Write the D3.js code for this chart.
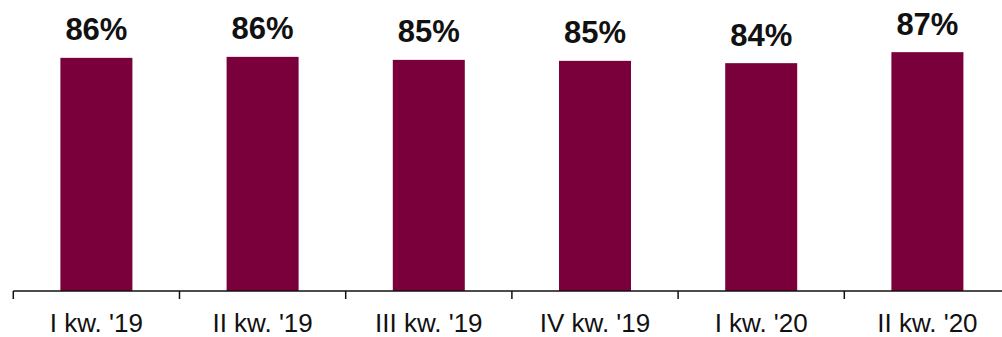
<!DOCTYPE html>
<html>
<head>
<meta charset="utf-8">
<script src="https://cdn.jsdelivr.net/npm/d3@7"></script>
<style>
  body { margin: 0; background: #fff; }
  svg { display: block; }
</style>
</head>
<body>
<script>
// quarters and share values (%)
var categories = ["I kw. '19", "II kw. '19", "III kw. '19", "IV kw. '19", "I kw. '20", "II kw. '20"];
var values = [85.66, 85.97, 85.03, 84.72, 84.0, 87.44];

var w = 1002, h = 337;
var baseY = 291;
var x0 = 13.3, bandW = 166.2;

var svg = d3.select("body").append("svg").attr("width", w).attr("height", h);

var xScale = d3.scaleBand()
  .domain(categories)
  .range([x0, x0 + bandW * categories.length])
  .paddingInner(0)
  .paddingOuter(0);

var yScale = d3.scaleLinear().domain([12.8, 100]).range([baseY, baseY - 87.2 * 3.2]);

var barW = 72;

// bars
svg.selectAll("rect.bar")
  .data(values)
  .enter()
  .append("rect")
  .attr("class", "bar")
  .attr("x", function (d, i) { return xScale(categories[i]) + (bandW - barW) / 2; })
  .attr("y", function (d) { return yScale(d); })
  .attr("width", barW)
  .attr("height", function (d) { return baseY - yScale(d); })
  .attr("fill", "#7a003c");

// value labels
svg.selectAll("text.val")
  .data(values)
  .enter()
  .append("text")
  .attr("class", "val")
  .attr("x", function (d, i) { return xScale(categories[i]) + bandW / 2; })
  .attr("y", function (d) { return yScale(d) - 17.5; })
  .attr("text-anchor", "middle")
  .attr("font-family", "'Liberation Sans', Arial, sans-serif")
  .attr("font-weight", "bold")
  .attr("font-size", "31px")
  .attr("fill", "#111")
  .text(function (d) { return Math.round(d) + "%"; });

// x axis: line + ticks at band boundaries
svg.append("line")
  .attr("x1", x0).attr("x2", w)
  .attr("y1", baseY).attr("y2", baseY)
  .attr("stroke", "#111").attr("stroke-width", 1.5);

var tickPos = categories.map(function (c) { return xScale(c); });
svg.selectAll("line.tick")
  .data(tickPos)
  .enter()
  .append("line")
  .attr("class", "tick")
  .attr("x1", function (d) { return d; }).attr("x2", function (d) { return d; })
  .attr("y1", baseY).attr("y2", baseY + 8)
  .attr("stroke", "#111").attr("stroke-width", 1.5);

svg.selectAll("text.cat")
  .data(categories)
  .enter()
  .append("text")
  .attr("class", "cat")
  .attr("x", function (d) { return xScale(d) + bandW / 2; })
  .attr("y", 332)
  .attr("text-anchor", "middle")
  .attr("font-family", "'Liberation Sans', Arial, sans-serif")
  .attr("font-size", "26px")
  .attr("fill", "#111")
  .text(function (d) { return d; });
</script>
</body>
</html>
